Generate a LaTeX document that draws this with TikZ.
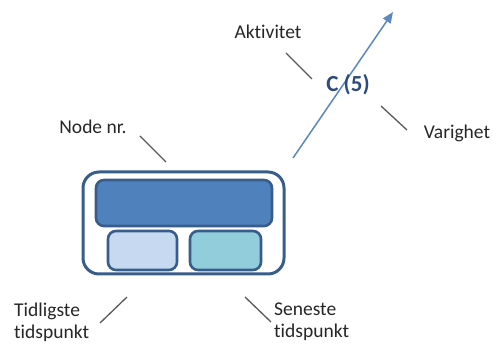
\documentclass[tikz,border=0pt]{standalone}
\usepackage{fontspec}
\setmainfont{Carlito}[Ligatures=NoCommon]
\usetikzlibrary{arrows.meta}
\definecolor{rim}{HTML}{385D8A}
\definecolor{topfill}{HTML}{4F81BD}
\definecolor{leftfill}{HTML}{C6D9F1}
\definecolor{rightfill}{HTML}{92CDDC}
\definecolor{pil}{HTML}{5B87C2}
\definecolor{merke}{HTML}{2C4B7C}
\begin{document}
\begin{tikzpicture}[x=1pt,y=-1pt,
    felt/.style={draw=rim,line width=2.6pt,rounded corners=8pt},
    tekst/.style={font=\fontsize{19.5}{22}\selectfont,text=black!85,align=left,inner sep=0pt},
    strek/.style={draw=black!65,line width=1.3pt}]
                \useasboundingbox (0,0) rectangle (493,344);
                \draw [rim,line width=3pt,fill=white,rounded corners=16pt] (83,172) rectangle (284,274);
                \draw [felt,fill=topfill] (96,180) rectangle (272,226);
                \draw [felt,fill=leftfill] (108,231) rectangle (177,270);
                \draw [felt,fill=rightfill] (190,231) rectangle (261,270);
                \coordinate (fot) at (293,158);
                \coordinate (topp) at (393,12);
                \draw [pil,line width=1.5pt,-{Triangle[length=11pt,width=9pt]}] (fot) -- (topp);
                \node [font=\bfseries\fontsize{23}{26}\selectfont,text=merke] (kant) at (348,85) {C (5)};
                \node [tekst] (akt) at (268,32) {Aktivitet};
                \node [tekst] (var) at (457,133) {Varighet};
                \node [tekst] (nr) at (93,127) {Node nr.};
                \node [tekst,anchor=west] (tid) at (14,322) {Tidligste\\tidspunkt};
                \node [tekst,anchor=west] (sen) at (274,322) {Seneste\\tidspunkt};
                \coordinate (a1) at (286,53);  \coordinate (a2) at (312,79);
                \coordinate (v1) at (381,106); \coordinate (v2) at (407,130);
                \coordinate (n1) at (140,136); \coordinate (n2) at (166,162);
                \coordinate (t1) at (127,297); \coordinate (t2) at (100,323);
                \coordinate (s1) at (245,297); \coordinate (s2) at (271,322);
                \draw [strek] (a1)--(a2);
                \draw [strek] (v1)--(v2);
                \draw [strek] (n1)--(n2);
                \draw [strek] (t1)--(t2);
                \draw [strek] (s1)--(s2);
            \end{tikzpicture}
\end{document}
